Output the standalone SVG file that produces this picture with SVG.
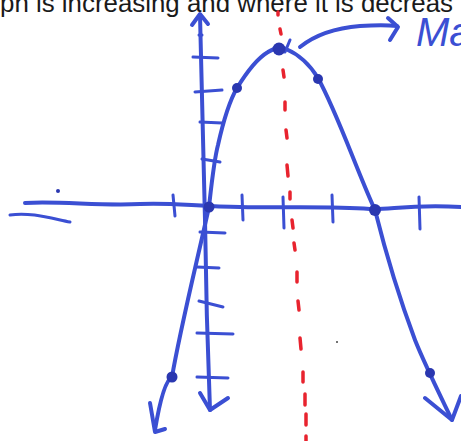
<svg xmlns="http://www.w3.org/2000/svg" width="461" height="441" viewBox="0 0 461 441">
<style>
.ink{fill:none;stroke:#3b4fd3;stroke-width:4;stroke-linecap:round;stroke-linejoin:round}
.thin{fill:none;stroke:#3b4fd3;stroke-width:3;stroke-linecap:round;stroke-linejoin:round}
.dot{fill:#2a37b0}
.red{fill:none;stroke:#e8232e;stroke-width:3.5;stroke-linecap:round}
.cap{font-family:"Liberation Sans",Arial,sans-serif;font-size:26px;fill:#1a1a1a}
.hand{font-family:"Liberation Sans",Arial,sans-serif;font-style:italic;font-size:40px;fill:#3b4fd3}
</style>
<rect width="461" height="441" fill="#ffffff"/>
<text class="cap" x="0" y="12" textLength="453" lengthAdjust="spacingAndGlyphs">ph is increasing and where it is decreas</text>
<g id="label-max">
<text class="hand" x="416" y="46">Ma</text>
</g>
<g id="axes">
<path class="ink" d="M25,203 C60,201 100,206 140,204 C170,202 200,207 240,207 C290,208 330,206 370,209 C390,210 410,204 461,207"/>
<path class="thin" d="M10,215 C30,212 50,218 70,222"/>
<circle cx="58" cy="191" r="2" class="dot"/>
<path class="thin" d="M173,195 L175,216 M242,195 L243,220 M283,197 L284,228 M332,195 L333,222 M419,197 L420,229"/>
<path class="ink" d="M200,15 C201,80 203,150 205,220 C206,300 208,360 210,410"/>
<path class="ink" d="M192,25 L200,14 L208,24"/>
<path class="ink" d="M200,393 L210,410 L228,398"/>
<path class="thin" d="M199,35 L202,35 M193,57 L218,58 M195,92 L222,90 M200,122 L222,123 M202,159 L220,162 M200,232 L225,233 M197,267 L219,268 M199,301 L223,307 M197,333 L233,334 M197,377 L228,378"/>
</g>
<g id="parabola">
<path class="ink" d="M155,430 C160,400 166,380 172,377 C180,330 195,270 209,207 C212,180 214,160 218,145 C224,118 230,100 237,88 C248,70 258,58 268,52 C274,48 280,47 286,49 C300,55 310,65 318,78 C330,100 340,125 352,155 C362,180 368,195 375,210 C385,250 400,300 415,340 C425,365 440,395 452,420"/>
<path class="ink" d="M150,403 L155,432 L165,429"/>
<path class="ink" d="M425,398 L452,420 L461,396"/>
<path class="thin" d="M290,40 L285,52"/>
<circle cx="279" cy="49" r="6.5" class="dot"/>
<circle cx="237" cy="88" r="5" class="dot"/>
<circle cx="318" cy="79" r="5" class="dot"/>
<circle cx="209" cy="207" r="5.5" class="dot"/>
<circle cx="375" cy="210" r="6" class="dot"/>
<circle cx="172" cy="377" r="5.5" class="dot"/>
<circle cx="430" cy="373" r="5" class="dot"/>
<circle cx="337" cy="342" r="1" fill="#444"/>
</g>
<g id="connectors">
<path class="ink" d="M300,47 C315,35 335,28 360,26 C375,25 388,25 397,26"/>
<path class="ink" d="M388,18 L398,27 L390,40"/>
</g>
<g id="axis-of-symmetry">
<path class="red" d="M278,12 L278,15 M280,29 L281,34 M283,70 L284,77 M285,102 L285,110 M286,130 L287,138 M287,165 L288,176 M290,192 L290,199 M292,220 L293,228 M294,243 L295,250 M297,272 L297,282 M298,301 L299,310 M300,338 L301,349 M303,372 L303,382 M305,394 L305,405 M306,414 L306,425 M306,436 L306,441"/>
</g>
</svg>
